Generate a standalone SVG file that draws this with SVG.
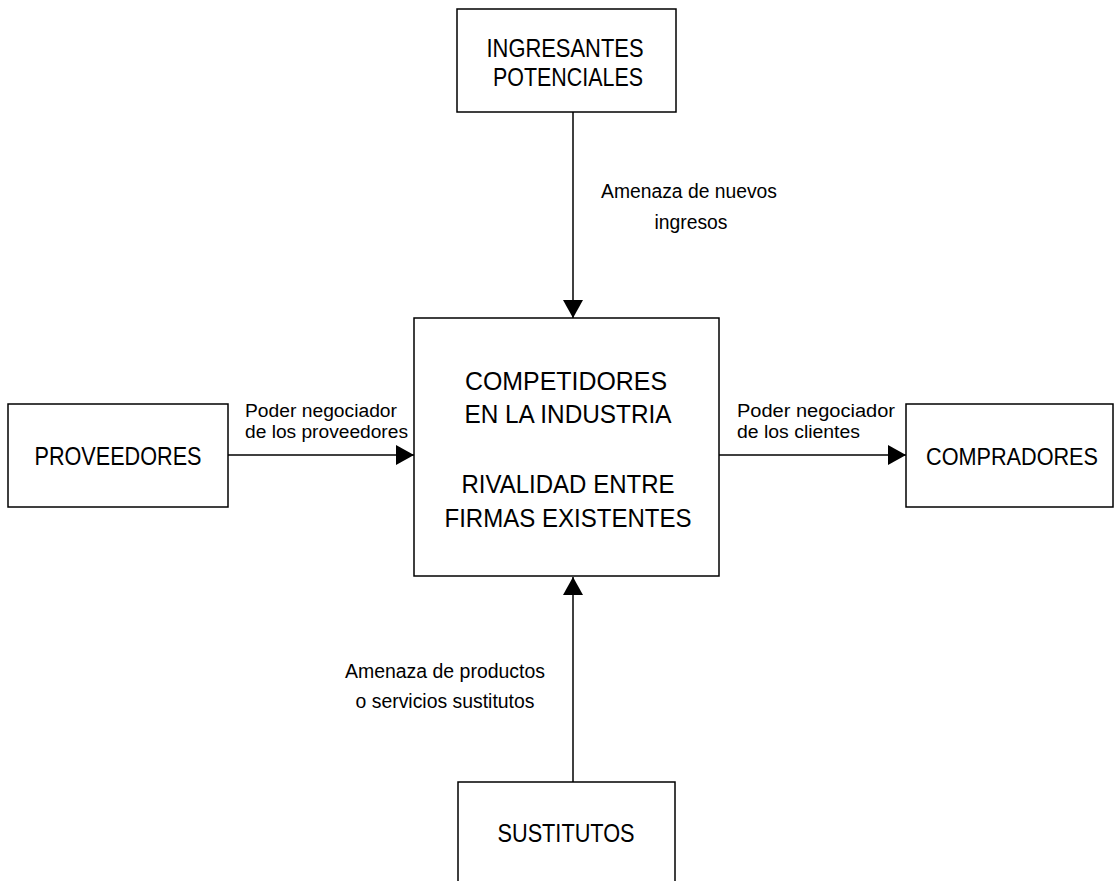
<svg xmlns="http://www.w3.org/2000/svg" width="1120" height="881" viewBox="0 0 1120 881">
<style>
.box{fill:#fff;stroke:#000;stroke-width:1.5}
.nt{font-family:"Liberation Sans",Arial,sans-serif;font-size:25px;fill:#000;text-anchor:middle}
.lt{font-family:"Liberation Sans",Arial,sans-serif;font-size:20px;fill:#000}
.st{font-family:"Liberation Sans",Arial,sans-serif;font-size:18px;fill:#000}
.ln{stroke:#000;stroke-width:1.5;fill:none}
</style>
<defs>
<marker id="ah" viewBox="0 0 18 20" refX="18" refY="10" markerWidth="18" markerHeight="20" markerUnits="userSpaceOnUse" orient="auto">
<path d="M0,0 L18,10 L0,20 Z" fill="#000"/>
</marker>
</defs>
<rect width="1120" height="881" fill="#fff"/>
<g id="connectors">
<line class="ln" x1="573" y1="112" x2="573" y2="318" marker-end="url(#ah)"/>
<line class="ln" x1="573" y1="782" x2="573" y2="577" marker-end="url(#ah)"/>
<line class="ln" x1="228" y1="455" x2="414" y2="455" marker-end="url(#ah)"/>
<line class="ln" x1="719" y1="455" x2="906" y2="455" marker-end="url(#ah)"/>
<text class="lt" x="689" y="198" text-anchor="middle" textLength="176" lengthAdjust="spacingAndGlyphs">Amenaza de nuevos</text>
<text class="lt" x="691" y="229" text-anchor="middle" textLength="73" lengthAdjust="spacingAndGlyphs">ingresos</text>
<text class="st" x="245" y="417" textLength="152" lengthAdjust="spacingAndGlyphs">Poder negociador</text>
<text class="st" x="245" y="438" textLength="163" lengthAdjust="spacingAndGlyphs">de los proveedores</text>
<text class="st" x="737" y="417" textLength="158" lengthAdjust="spacingAndGlyphs">Poder negociador</text>
<text class="st" x="737" y="438" textLength="123" lengthAdjust="spacingAndGlyphs">de los clientes</text>
<text class="lt" x="445" y="678" text-anchor="middle" textLength="200" lengthAdjust="spacingAndGlyphs">Amenaza de productos</text>
<text class="lt" x="445" y="708" text-anchor="middle" textLength="179" lengthAdjust="spacingAndGlyphs">o servicios sustitutos</text>
</g>
<g id="ingresantes">
<rect class="box" x="457" y="9" width="219" height="103"/>
<text class="nt" x="565" y="57" textLength="157" lengthAdjust="spacingAndGlyphs">INGRESANTES</text>
<text class="nt" x="568" y="86" textLength="150" lengthAdjust="spacingAndGlyphs">POTENCIALES</text>
</g>
<g id="competidores">
<rect class="box" x="414" y="318" width="305" height="258"/>
<text class="nt" x="566" y="390" textLength="202" lengthAdjust="spacingAndGlyphs">COMPETIDORES</text>
<text class="nt" x="568" y="423" textLength="207" lengthAdjust="spacingAndGlyphs">EN LA INDUSTRIA</text>
<text class="nt" x="568" y="493" textLength="213" lengthAdjust="spacingAndGlyphs">RIVALIDAD ENTRE</text>
<text class="nt" x="568" y="527" textLength="247" lengthAdjust="spacingAndGlyphs">FIRMAS EXISTENTES</text>
</g>
<g id="proveedores">
<rect class="box" x="8" y="404" width="220" height="103"/>
<text class="nt" x="118" y="465" textLength="167" lengthAdjust="spacingAndGlyphs">PROVEEDORES</text>
</g>
<g id="compradores">
<rect class="box" x="906" y="404" width="207" height="103"/>
<text class="nt" x="1012" y="465" style="font-size:23px" textLength="172" lengthAdjust="spacingAndGlyphs">COMPRADORES</text>
</g>
<g id="sustitutos">
<rect class="box" x="458" y="782" width="217" height="120"/>
<text class="nt" x="566" y="842" textLength="137" lengthAdjust="spacingAndGlyphs">SUSTITUTOS</text>
</g>
</svg>
